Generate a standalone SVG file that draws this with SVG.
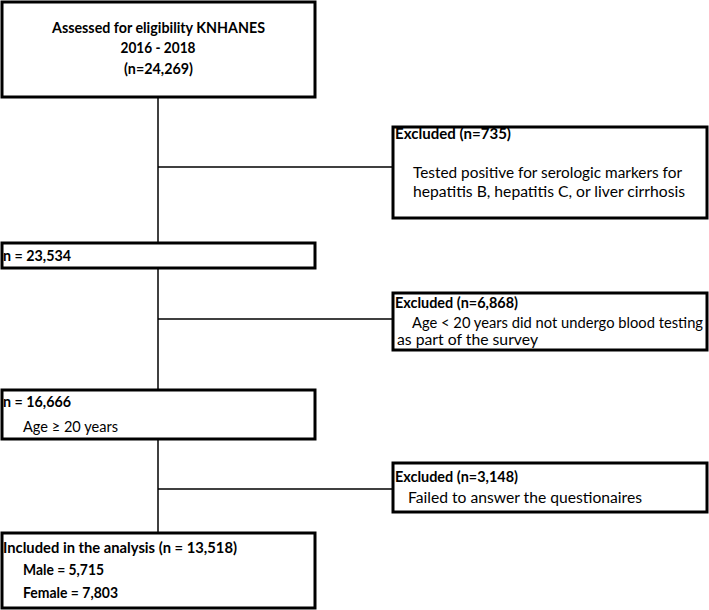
<svg xmlns="http://www.w3.org/2000/svg" width="709" height="610" viewBox="0 0 709 610">
<style>
.box{fill:#fff;stroke:#000;stroke-width:3}
.t{font-family:Lato,"Liberation Sans",sans-serif;font-size:14.5px;fill:#000}
.b{font-weight:bold}
.c{text-anchor:middle}
.ln{stroke:#000;stroke-width:1.5;fill:none}
</style>
<rect width="709" height="610" fill="#fff"/>
<g id="connectors">
<line class="ln" x1="158" y1="97" x2="158" y2="243"/>
<line class="ln" x1="158" y1="167" x2="393" y2="167"/>
<line class="ln" x1="158" y1="268" x2="158" y2="390"/>
<line class="ln" x1="158" y1="319" x2="393" y2="319"/>
<line class="ln" x1="158" y1="439" x2="158" y2="533"/>
<line class="ln" x1="158" y1="489" x2="393" y2="489"/>
</g>
<g id="n1">
<rect class="box" x="2" y="2" width="313" height="95"/>
<text class="t b c" x="158.5" y="33" textLength="213" lengthAdjust="spacingAndGlyphs">Assessed for eligibility KNHANES</text>
<text class="t b c" x="158" y="53" textLength="75" lengthAdjust="spacingAndGlyphs">2016 - 2018</text>
<text class="t b c" x="158.5" y="74" textLength="69" lengthAdjust="spacingAndGlyphs">(n=24,269)</text>
</g>
<g id="e1">
<rect class="box" x="393" y="127" width="314" height="91"/>
<text class="t b" x="395" y="139" textLength="116" lengthAdjust="spacingAndGlyphs">Excluded (n=735)</text>
<text class="t" x="413" y="178" textLength="269" lengthAdjust="spacingAndGlyphs">Tested positive for serologic markers for</text>
<text class="t" x="413" y="197" textLength="272" lengthAdjust="spacingAndGlyphs">hepatitis B, hepatitis C, or liver cirrhosis</text>
</g>
<g id="n2">
<rect class="box" x="2" y="243" width="313" height="25"/>
<text class="t b" x="3" y="261" textLength="68" lengthAdjust="spacingAndGlyphs">n = 23,534</text>
</g>
<g id="e2">
<rect class="box" x="393" y="293" width="314" height="57"/>
<text class="t b" x="395" y="308" textLength="123" lengthAdjust="spacingAndGlyphs">Excluded (n=6,868)</text>
<text class="t" x="412" y="328" textLength="291" lengthAdjust="spacingAndGlyphs">Age &lt; 20 years did not undergo blood testing</text>
<text class="t" x="397" y="345" textLength="141" lengthAdjust="spacingAndGlyphs">as part of the survey</text>
</g>
<g id="n3">
<rect class="box" x="2" y="390" width="313" height="49"/>
<text class="t b" x="3" y="407" textLength="68" lengthAdjust="spacingAndGlyphs">n = 16,666</text>
<text class="t" x="23" y="432" textLength="95" lengthAdjust="spacingAndGlyphs">Age ≥ 20 years</text>
</g>
<g id="e3">
<rect class="box" x="393" y="463" width="314" height="49"/>
<text class="t b" x="395" y="482" textLength="123" lengthAdjust="spacingAndGlyphs">Excluded (n=3,148)</text>
<text class="t" x="408" y="503" textLength="234" lengthAdjust="spacingAndGlyphs">Failed to answer the questionaires</text>
</g>
<g id="n4">
<rect class="box" x="2" y="533" width="313" height="75"/>
<text class="t b" x="3" y="553" textLength="234" lengthAdjust="spacingAndGlyphs">Included in the analysis (n = 13,518)</text>
<text class="t b" x="23" y="575" textLength="81" lengthAdjust="spacingAndGlyphs">Male = 5,715</text>
<text class="t b" x="23" y="598" textLength="95" lengthAdjust="spacingAndGlyphs">Female = 7,803</text>
</g>
</svg>
